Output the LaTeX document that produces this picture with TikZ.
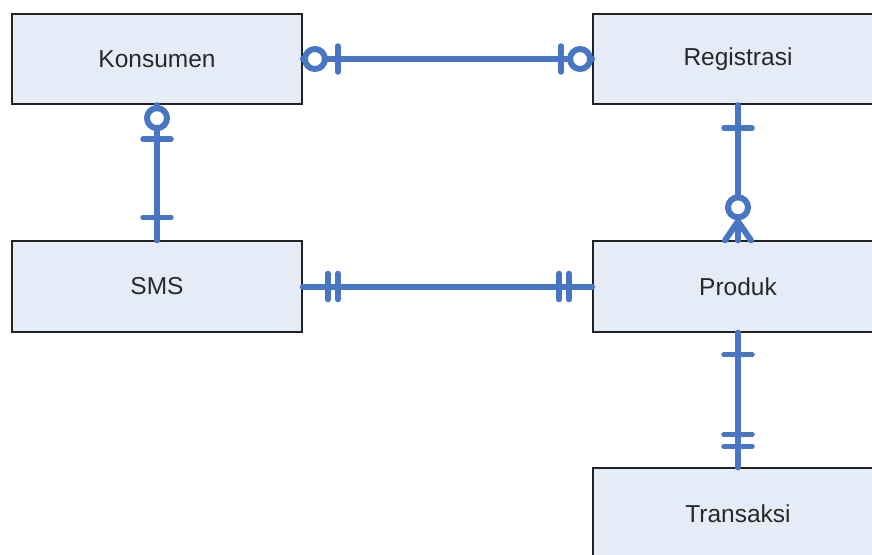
\documentclass[tikz,border=0pt]{standalone}
\usepackage{fontspec}
\setmainfont{Liberation Sans}
\usetikzlibrary{calc}
\definecolor{erblue}{RGB}{72,118,194}
\definecolor{boxfill}{RGB}{230,236,247}
\definecolor{boxline}{RGB}{34,34,34}
\definecolor{txt}{RGB}{40,40,40}
\begin{document}
\begin{tikzpicture}[x=1pt,y=1pt,
  entity/.style={draw=boxline,line width=1.8pt,fill=boxfill,minimum width=290pt,minimum height=90.5pt,inner sep=0pt,text=txt,font=\fontsize{24.5}{28}\selectfont},
  rel/.style={draw=erblue,line width=6pt,line cap=round},
  tick/.style={draw=erblue,line width=5.5pt,line cap=round},
  ring/.style={draw=erblue,line width=6pt,fill=white}]
\useasboundingbox (0,0) rectangle (872,-554);
\clip (0,0) rectangle (872,-554);
\fill[white] (0,0) rectangle (872,-554);
\node[entity] (kons) at (157,-59) {Konsumen};
\node[entity] (reg)  at (738,-59) {Registrasi};
\node[entity] (sms)  at (157,-286.5) {SMS};
\node[entity] (prod) at (738,-286.5) {Produk};
\node[entity] (trans) at (738,-513.5) {Transaksi};
% Konsumen -- Registrasi
\draw[rel] (kons.east) -- (reg.west);
\draw[tick] ($(kons.east)+(35,-13)$) -- ($(kons.east)+(35,13)$);
\draw[ring] ($(kons.east)+(12,0)$) circle (10);
\draw[tick] ($(reg.west)+(-31,-13)$) -- ($(reg.west)+(-31,13)$);
\draw[ring] ($(reg.west)+(-12,0)$) circle (10);
% Konsumen -- SMS
\draw[rel] (kons.south) -- (sms.north);
\draw[tick] ($(kons.south)+(-14,-34)$) -- ($(kons.south)+(14,-34)$);
\draw[ring] ($(kons.south)+(0,-13)$) circle (10);
\draw[tick] ($(sms.north)+(-14,23)$) -- ($(sms.north)+(14,23)$);
% Registrasi -- Produk
\draw[rel] (reg.south) -- (prod.north);
\draw[tick] ($(reg.south)+(-14,-23)$) -- ($(reg.south)+(14,-23)$);
\draw[rel] ($(prod.north)+(0,19)$) -- ($(prod.north)+(-13,0)$);
\draw[rel] ($(prod.north)+(0,19)$) -- ($(prod.north)+(13,0)$);
\draw[ring] ($(prod.north)+(0,33)$) circle (10);
% SMS -- Produk
\draw[rel] (sms.east) -- (prod.west);
\draw[tick] ($(sms.east)+(25,-13)$) -- ($(sms.east)+(25,13)$);
\draw[tick] ($(sms.east)+(35,-13)$) -- ($(sms.east)+(35,13)$);
\draw[tick] ($(prod.west)+(-23,-13)$) -- ($(prod.west)+(-23,13)$);
\draw[tick] ($(prod.west)+(-33,-13)$) -- ($(prod.west)+(-33,13)$);
% Produk -- Transaksi
\draw[rel] (prod.south) -- (trans.north);
\draw[tick] ($(prod.south)+(-14,-22)$) -- ($(prod.south)+(14,-22)$);
\draw[tick] ($(trans.north)+(-14,33)$) -- ($(trans.north)+(14,33)$);
\draw[tick] ($(trans.north)+(-14,21)$) -- ($(trans.north)+(14,21)$);
\end{tikzpicture}
\end{document}
